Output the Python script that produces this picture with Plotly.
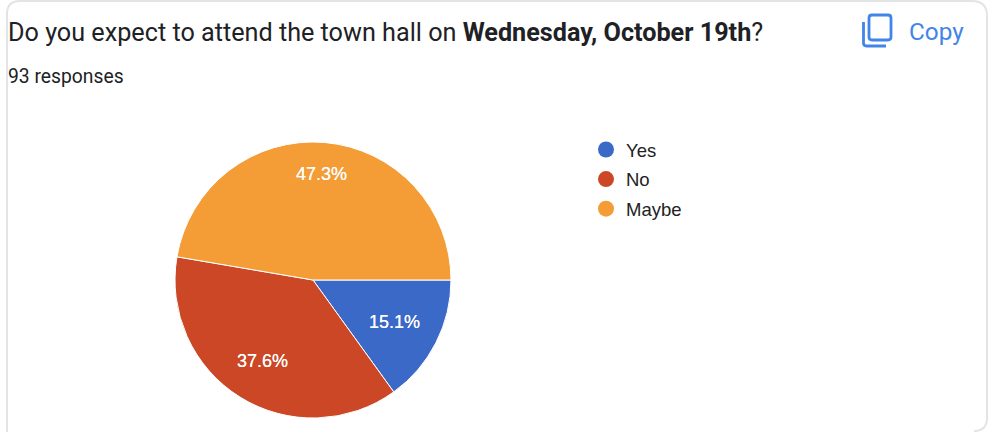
import math
import plotly.graph_objects as go

categories = ["Yes", "No", "Maybe"]
responses = [14, 35, 44]
colors = ["#3b69c8", "#cc4725", "#f49d37"]
label_radius = [0.665, 0.695, 0.77]
W, H = 990, 432
CX, CY, R = 313, 280, 138

fig = go.Figure()
fig.add_trace(go.Pie(
    labels=categories, values=responses, sort=False, direction="clockwise", rotation=90,
    marker=dict(colors=colors, line=dict(color="white", width=1)),
    textinfo="none",
    domain=dict(x=[(CX-R)/W, (CX+R)/W], y=[1-(CY+R)/H, 1-(CY-R)/H]),
    showlegend=False, hoverinfo="label+percent",
))
for c, col in zip(categories, colors):
    fig.add_trace(go.Scatter(
        x=[None], y=[None], mode="markers", name=c, legendgroup=c,
        marker=dict(symbol="circle", size=19, color=col), xaxis="x", yaxis="y",
    ))

def px(x): return x/W
def py(y): return 1-y/H

card = "M 7 432 L 7 14 Q 7 1 20 1 L 972 1 Q 987 1 987 16 L 987 418 Q 987 431 974 431"
icon_back = "M 863.5 22 L 863.5 43 Q 863.5 46 866.5 46 L 886 46"
icon_front = ("M 872 15 L 888 15 Q 891 15 891 18 L 891 37 Q 891 40 888 40 L 872 40 "
              "Q 869 40 869 37 L 869 18 Q 869 15 872 15 Z")

def conv(path):
    out, toks = [], path.split()
    i = 0
    while i < len(toks):
        t = toks[i]
        if t.isalpha():
            out.append(t); i += 1
        else:
            out.append(f"{float(t)/W:.5f}"); out.append(f"{1-float(toks[i+1])/H:.5f}"); i += 2
    return " ".join(out)

shapes = [
    dict(type="path", xref="paper", yref="paper", path=conv(card), line=dict(color="#e3e4e7", width=2)),
    dict(type="path", xref="paper", yref="paper", path=conv(icon_back), line=dict(color="#4285e8", width=2.8)),
    dict(type="path", xref="paper", yref="paper", path=conv(icon_front), line=dict(color="#4285e8", width=2.8)),
]

def note(text, x, y, size, color, family="Roboto", anchor="left", shadow=None):
    font = dict(family=family, size=size, color=color)
    if shadow:
        font["shadow"] = shadow
    return dict(text=text, x=px(x), y=py(y), xref="paper", yref="paper", xanchor=anchor, yanchor="middle",
                showarrow=False, font=font)

annotations = [
    note("Do you expect to attend the town hall on <b>Wednesday, October 19th</b>?", 6, 32, 25.2, "#202124"),
    note("93 responses", 6, 77, 19.3, "#202124"),
    note("Copy", 907, 31, 24.3, "#4285e8"),
]

total = sum(responses)
cum = 0
for v, f in zip(responses, label_radius):
    ang = 2*math.pi*(cum + v/2)/total
    cum += v
    annotations.append(note(f"{100*v/total:.1f}%", CX + f*R*math.cos(ang), CY + f*R*math.sin(ang),
                            18, "white", family="Liberation Sans", anchor="center",
                            shadow="0 0 0.4px white"))

fig.update_layout(
    width=W, height=H, margin=dict(l=0, r=0, t=0, b=0),
    paper_bgcolor="white", plot_bgcolor="white",
    xaxis=dict(visible=False), yaxis=dict(visible=False),
    showlegend=True,
    legend=dict(x=px(586), y=py(131), xanchor="left", yanchor="top", traceorder="grouped",
                tracegroupgap=2.5, font=dict(family="Liberation Sans", size=18.5, color="#222222"),
                itemwidth=30, bgcolor="rgba(0,0,0,0)"),
    shapes=shapes, annotations=annotations,
)
fig.write_html("out.html", config=dict(displayModeBar=False),
               post_script="document.body.style.margin='0';")
